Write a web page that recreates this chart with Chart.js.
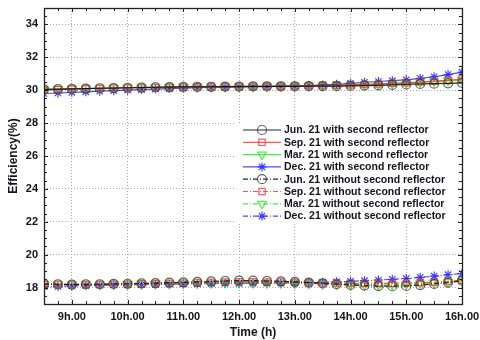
<!DOCTYPE html>
<html lang="en">
<head>
  <meta charset="UTF-8">
  <title>Efficiency vs Time</title>
  <script src="https://cdn.jsdelivr.net/npm/chart.js"></script>
  <style>
    html, body { margin: 0; padding: 0; background: #fff; }
    #wrap { width: 480px; height: 340px; }
  </style>
</head>
<body>
<div id="wrap"><canvas id="effChart" width="480" height="340"></canvas></div>
<script>
  // hours of the day (every quarter hour)
  const hours = [8.5, 8.75, 9, 9.25, 9.5, 9.75, 10, 10.25, 10.5, 10.75, 11, 11.25, 11.5, 11.75, 12,
    12.25, 12.5, 12.75, 13, 13.25, 13.5, 13.75, 14, 14.25, 14.5, 14.75, 15, 15.25, 15.5, 15.75, 16];

  const junWith = [30.05, 30.07, 30.08, 30.1, 30.12, 30.13, 30.15, 30.16, 30.18, 30.19, 30.2, 30.2, 30.21, 30.22, 30.22,
    30.23, 30.23, 30.24, 30.24, 30.25, 30.25, 30.25, 30.26, 30.28, 30.3, 30.32, 30.35, 30.38, 30.4, 30.42, 30.45];
  const sepWith = [30.0, 30.04, 30.07, 30.1, 30.12, 30.14, 30.15, 30.17, 30.18, 30.2, 30.2, 30.21, 30.22, 30.22, 30.23,
    30.23, 30.24, 30.25, 30.26, 30.27, 30.28, 30.3, 30.32, 30.35, 30.38, 30.42, 30.46, 30.5, 30.55, 30.6, 30.68];
  const marWith = [30.05, 30.07, 30.09, 30.1, 30.12, 30.13, 30.15, 30.16, 30.18, 30.19, 30.2, 30.2, 30.21, 30.21, 30.22,
    30.22, 30.23, 30.24, 30.25, 30.26, 30.27, 30.29, 30.31, 30.33, 30.36, 30.4, 30.44, 30.48, 30.52, 30.57, 30.62];
  const decWith = [29.8, 29.83, 29.87, 29.9, 29.94, 29.97, 30.0, 30.04, 30.07, 30.1, 30.13, 30.15, 30.17, 30.19, 30.2,
    30.21, 30.22, 30.23, 30.25, 30.28, 30.32, 30.36, 30.42, 30.48, 30.53, 30.58, 30.63, 30.72, 30.82, 30.95, 31.1];

  const junWithout = [18.22, 18.2, 18.18, 18.2, 18.2, 18.22, 18.23, 18.25, 18.27, 18.3, 18.32, 18.34, 18.37, 18.4, 18.42,
    18.42, 18.4, 18.38, 18.35, 18.3, 18.25, 18.2, 18.16, 18.12, 18.09, 18.08, 18.1, 18.15, 18.22, 18.3, 18.42];
  const sepWithout = [18.2, 18.2, 18.19, 18.2, 18.2, 18.21, 18.22, 18.23, 18.24, 18.26, 18.28, 18.3, 18.32, 18.34, 18.35,
    18.35, 18.34, 18.33, 18.32, 18.3, 18.28, 18.27, 18.26, 18.25, 18.25, 18.26, 18.28, 18.3, 18.33, 18.38, 18.45];
  const marWithout = [18.22, 18.2, 18.18, 18.19, 18.2, 18.2, 18.21, 18.22, 18.23, 18.24, 18.25, 18.26, 18.27, 18.28, 18.28,
    18.28, 18.27, 18.26, 18.25, 18.24, 18.22, 18.2, 18.18, 18.17, 18.16, 18.17, 18.2, 18.24, 18.28, 18.33, 18.4];
  const decWithout = [18.05, 18.07, 18.1, 18.12, 18.14, 18.16, 18.17, 18.18, 18.19, 18.2, 18.22, 18.23, 18.24, 18.25, 18.25,
    18.26, 18.27, 18.27, 18.28, 18.3, 18.32, 18.35, 18.38, 18.42, 18.46, 18.5, 18.55, 18.62, 18.7, 18.78, 18.85];

  const seriesNames = [
    'Jun. 21 with second reflector', 'Sep. 21 with second reflector',
    'Mar. 21 with second reflector', 'Dec. 21 with second reflector',
    'Jun. 21 without second reflector', 'Sep. 21 without second reflector',
    'Mar. 21 without second reflector', 'Dec. 21 without second reflector'
  ];
  const xTickValues = [9, 10, 11, 12, 13, 14, 15, 16];
  const yTickValues = [18, 20, 22, 24, 26, 28, 30, 32, 34];

  const FONT = "'Liberation Sans', Arial, sans-serif";
  const TEXT = '#14141e';
  const DASHDOT = [5, 2, 1, 2];

  const styles = [
    { color: 'rgba(0,0,0,0.85)', mark: 'rgba(60,60,60,0.8)', shape: 'circle', r: 4.5, rot: 0 },
    { color: 'rgba(255,40,40,0.8)', mark: 'rgba(255,40,40,0.75)', shape: 'rect', r: 4.5, rot: 0 },
    { color: 'rgba(40,230,40,0.85)', mark: 'rgba(40,230,40,0.8)', shape: 'triangle', r: 5, rot: 180 },
    { color: 'rgba(30,30,255,0.8)', mark: 'rgba(30,30,255,0.85)', shape: 'star', r: 4.5, rot: 0 }
  ];
  const allValues = [junWith, sepWith, marWith, decWith, junWithout, sepWithout, marWithout, decWithout];

  const datasets = allValues.map((vals, i) => {
    const st = styles[i % 4];
    return {
      label: seriesNames[i],
      data: hours.map((h, k) => ({ x: h, y: vals[k] })),
      borderColor: st.color,
      borderWidth: 1.2,
      borderDash: i < 4 ? [] : DASHDOT,
      pointStyle: st.shape,
      pointRotation: st.rot,
      pointRadius: st.r,
      pointBorderColor: st.mark,
      pointBackgroundColor: 'rgba(0,0,0,0)',
      pointBorderWidth: 1.2,
      fill: false,
      tension: 0
    };
  });

  // frame, inward minor ticks, legend box
  const decorPlugin = {
    id: 'decor',
    afterDraw(chart) {
      const c = chart.ctx, a = chart.chartArea;
      const xs = chart.scales.x, ys = chart.scales.y;
      c.save();
      c.strokeStyle = '#222';
      c.lineWidth = 1;
      c.beginPath();
      for (let v = 8.5; v <= 16.001; v += 0.25) {
        const px = Math.round(xs.getPixelForValue(v)) + 0.5;
        const len = Number.isInteger(v) ? 4 : 3;
        c.moveTo(px, a.bottom); c.lineTo(px, a.bottom - len);
        c.moveTo(px, a.top); c.lineTo(px, a.top + len);
      }
      for (let v = 17; v <= 35.001; v += 0.5) {
        const py = Math.round(ys.getPixelForValue(v)) + 0.5;
        const len = Number.isInteger(v) && v % 2 === 0 ? 4 : 3;
        c.moveTo(a.left, py); c.lineTo(a.left + len, py);
        c.moveTo(a.right, py); c.lineTo(a.right - len, py);
      }
      c.stroke();
      c.lineWidth = 1.3;
      c.strokeRect(Math.round(a.left) + 0.5, Math.round(a.top) + 0.5,
        Math.round(a.right - a.left), Math.round(a.bottom - a.top));

      // legend
      const lx = 236, ly = 123, rowH = 12.3;
      c.fillStyle = '#fff';
      c.fillRect(lx, ly, 220, 101);
      c.font = 'bold 10.5px ' + FONT;
      c.textBaseline = 'middle';
      chart.data.datasets.forEach((ds, i) => {
        const y = ly + 7 + i * rowH;
        c.save();
        c.strokeStyle = ds.borderColor;
        c.lineWidth = 1.2;
        c.setLineDash(ds.borderDash);
        c.beginPath(); c.moveTo(lx + 7, y); c.lineTo(lx + 45, y); c.stroke();
        c.setLineDash([]);
        c.strokeStyle = ds.pointBorderColor;
        c.fillStyle = 'rgba(0,0,0,0)';
        c.lineWidth = 1.2;
        if (Chart.helpers && Chart.helpers.drawPoint) {
          Chart.helpers.drawPoint(c, {
            pointStyle: ds.pointStyle, rotation: ds.pointRotation,
            radius: ds.pointRadius, borderWidth: 1.2
          }, lx + 26, y);
        }
        c.restore();
        c.fillStyle = TEXT;
        c.fillText(ds.label, lx + 48, y + 0.5);
      });
      c.restore();
    }
  };

  const ctx = document.getElementById('effChart').getContext('2d');
  new Chart(ctx, {
    type: 'line',
    data: { datasets: datasets },
    options: {
      responsive: false,
      animation: false,
      layout: { padding: { left: 0, right: 18, top: 8, bottom: 0 } },
      plugins: { legend: { display: false }, tooltip: { enabled: false } },
      scales: {
        x: {
          type: 'linear',
          min: 8.5,
          max: 16,
          afterBuildTicks: s => { s.ticks = xTickValues.map(v => ({ value: v })); },
          afterFit: s => { s.height = 36; s.paddingLeft = 0; s.paddingRight = 0; },
          grid: { color: '#a8a8a8', lineWidth: 1, drawTicks: false },
          border: { display: false, dash: [1, 2] },
          ticks: {
            padding: 6,
            color: TEXT,
            maxRotation: 0,
            font: { family: FONT, size: 11, weight: 'bold' },
            callback: v => v + 'h.00'
          },
          title: {
            display: true, text: 'Time (h)', color: TEXT,
            padding: { top: 0, bottom: 0 },
            font: { family: FONT, size: 12, weight: 'bold' }
          }
        },
        y: {
          min: 17,
          max: 35,
          afterBuildTicks: s => { s.ticks = yTickValues.map(v => ({ value: v })); },
          afterFit: s => { s.width = 44; s.paddingTop = 0; s.paddingBottom = 0; },
          grid: { color: '#a8a8a8', lineWidth: 1, drawTicks: false },
          border: { display: false, dash: [1, 2] },
          ticks: {
            padding: 6,
            color: TEXT,
            font: { family: FONT, size: 11, weight: 'bold' }
          },
          title: {
            display: true, text: 'Efficiency(%)', color: TEXT,
            padding: { top: 6, bottom: 0 },
            font: { family: FONT, size: 12, weight: 'bold' }
          }
        }
      }
    },
    plugins: [decorPlugin]
  });
</script>
</body>
</html>
